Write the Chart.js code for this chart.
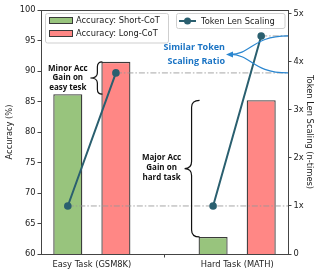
<!DOCTYPE html>
<html><head><meta charset="utf-8">
<script src="https://cdn.jsdelivr.net/npm/chart.js@4/dist/chart.umd.min.js"></script>
<style>html,body{margin:0;padding:0;background:#fff}#wrap{width:318px;height:275px}</style>
</head><body><div id="wrap"><canvas id="c" width="318" height="275"></canvas></div>
<script>
// ---- data ----
const categories = ['Easy Task (GSM8K)', 'Hard Task (MATH)'];
const accShortCoT = [86.2, 62.8];
const accLongCoT = [91.5, 85.2];
const tokenShortCoT = [1, 1];
const tokenLongCoT = [3.77, 4.54];
const accTicks = [60, 65, 70, 75, 80, 85, 90, 95, 100];
const tokenTicks = [0, 1, 2, 3, 4, 5];
const tokenTickLabels = ['0', '1x', '2x', '3x', '4x', '5x'];
const seriesLabels = ['Accuracy: Short-CoT', 'Accuracy: Long-CoT', 'Token Len Scaling'];
const minorText = ['Minor Acc', 'Gain on', 'easy tesk'];
const majorText = ['Major Acc', 'Gain on', 'hard task'];
const similarText = ['Similar Token', 'Scaling Ratio'];

// ---- style / layout ----
const X_MIN = -0.35, X_MAX = 1.35;
const CAT_PCT = 0.662, BAR_PCT = 0.604;
const OFF = CAT_PCT / 4;
const GREEN = '#98c47d', RED = '#ff8785', EDGE = '#3a3a3a', TEAL = '#2a5f6f', BLUE = '#1b74c4';
const TF = {family: 'DejaVu Sans', size: 8.3};
const TXT = '#222';

const barData = arr => arr.map((v, i) => ({x: i, y: v}));
const lineData = [];
categories.forEach((c, i) => {
  lineData.push({x: i - OFF, y: tokenShortCoT[i]});
  lineData.push({x: i + OFF, y: tokenLongCoT[i]});
  lineData.push({x: i + 0.5, y: null});
});
const refSets = [];
const seenY = new Set();
lineData.forEach(p => {
  if (p.y === null || seenY.has(p.y)) return;
  seenY.add(p.y);
  refSets.push({type: 'line', data: [{x: p.x, y: p.y}, {x: X_MAX, y: p.y}], yAxisID: 'y1',
    borderColor: 'rgba(150,150,150,0.85)', borderWidth: 1, borderDash: [6, 2, 1.5, 2],
    pointRadius: 0, order: 1});
});

function brace(ctx, xEnd, xv, xTip, yTop, yBot, r) {
  const yMid = (yTop + yBot) / 2;
  ctx.beginPath();
  ctx.moveTo(xEnd, yTop);
  ctx.quadraticCurveTo(xv, yTop, xv, yTop + r);
  ctx.lineTo(xv, yMid - r);
  ctx.quadraticCurveTo(xv, yMid, xTip, yMid);
  ctx.quadraticCurveTo(xv, yMid, xv, yMid + r);
  ctx.lineTo(xv, yBot - r);
  ctx.quadraticCurveTo(xv, yBot, xEnd, yBot);
  ctx.stroke();
}
function lines(ctx, arr, x, yc, lh) {
  const y0 = yc - (arr.length - 1) * lh / 2;
  arr.forEach((t, k) => ctx.fillText(t, x, y0 + k * lh));
}

const annot = {
  id: 'annot',
  afterDraw(chart) {
    const ctx = chart.ctx, ca = chart.chartArea, y1 = chart.scales.y1;
    const sb = chart.getDatasetMeta(0).data, lb = chart.getDatasetMeta(1).data;
    ctx.save();
    // top spine
    ctx.strokeStyle = '#444'; ctx.lineWidth = 1;
    ctx.beginPath(); ctx.moveTo(ca.left, ca.top + 0.5); ctx.lineTo(ca.right, ca.top + 0.5); ctx.stroke();

    // braces
    ctx.strokeStyle = '#111'; ctx.lineWidth = 1.2;
    const l0 = lb[0].x - lb[0].width / 2;
    brace(ctx, l0 + 1, l0 - 4, l0 - 11, lb[0].y, sb[0].y, 5);
    const s1 = sb[1].x - sb[1].width / 2;
    brace(ctx, s1 + 1, s1 - 7, s1 - 14, lb[1].y, sb[1].y, 7);
    ctx.fillStyle = '#111';
    ctx.font = 'bold 8px "Open Sans"';
    ctx.textAlign = 'center'; ctx.textBaseline = 'middle';
    lines(ctx, minorText, sb[0].x, (lb[0].y + sb[0].y) / 2, 9.7);
    lines(ctx, majorText, s1 - 37, (lb[1].y + sb[1].y) / 2 - 1, 10);

    // similar scaling annotation
    const yA = y1.getPixelForValue(tokenLongCoT[1]);
    const yB = y1.getPixelForValue(tokenLongCoT[0]);
    const ym = (yA + yB) / 2;
    const xt = 226, xr = ca.right;
    ctx.strokeStyle = '#2a86d0'; ctx.lineWidth = 1.2;
    ctx.beginPath(); ctx.moveTo(xt + 4, ym); ctx.bezierCurveTo(252, ym, 252, yA, xr, yA); ctx.stroke();
    ctx.beginPath(); ctx.moveTo(xt + 4, ym); ctx.bezierCurveTo(252, ym, 252, yB, xr, yB); ctx.stroke();
    ctx.fillStyle = '#2a86d0';
    ctx.beginPath(); ctx.moveTo(xt, ym); ctx.lineTo(xt + 7, ym - 3); ctx.lineTo(xt + 7, ym + 3); ctx.closePath(); ctx.fill();
    ctx.fillStyle = BLUE; ctx.font = 'bold 9px "Open Sans"';
    ctx.textAlign = 'right';
    lines(ctx, similarText, xt - 1, ym, 13.5);

    // legends
    ctx.textAlign = 'left'; ctx.textBaseline = 'middle';
    ctx.font = '8.3px "DejaVu Sans"';
    ctx.fillStyle = 'rgba(255,255,255,0.85)'; ctx.strokeStyle = '#cfcfcf'; ctx.lineWidth = 1;
    ctx.beginPath(); ctx.roundRect(45.5, 13.5, 123, 29.5, 2); ctx.fill(); ctx.stroke();
    ctx.beginPath(); ctx.roundRect(176.5, 13.5, 108.5, 15, 2); ctx.fill(); ctx.stroke();
    ctx.lineWidth = 1; ctx.strokeStyle = EDGE;
    ctx.fillStyle = GREEN; ctx.fillRect(49.5, 17.5, 23, 6); ctx.strokeRect(49.5, 17.5, 23, 6);
    ctx.fillStyle = RED; ctx.fillRect(49.5, 30.5, 23, 6); ctx.strokeRect(49.5, 30.5, 23, 6);
    ctx.fillStyle = TXT;
    ctx.fillText(seriesLabels[0], 76, 21);
    ctx.fillText(seriesLabels[1], 76, 34);
    ctx.strokeStyle = TEAL; ctx.lineWidth = 2;
    ctx.beginPath(); ctx.moveTo(179, 21); ctx.lineTo(196, 21); ctx.stroke();
    ctx.fillStyle = TEAL; ctx.beginPath(); ctx.arc(187.5, 21, 3.5, 0, Math.PI * 2); ctx.fill();
    ctx.fillStyle = TXT; ctx.fillText(seriesLabels[2], 201, 21.5);
    ctx.restore();
  }
};

const gridOpts = {drawOnChartArea: false, drawTicks: true, tickLength: 3.5, color: '#444'};
new Chart(document.getElementById('c'), {
  type: 'bar',
  data: {
    datasets: [
      {type: 'bar', label: seriesLabels[0], data: barData(accShortCoT), yAxisID: 'y',
        backgroundColor: GREEN, borderColor: EDGE, borderWidth: 1.3, order: 2,
        categoryPercentage: CAT_PCT, barPercentage: BAR_PCT},
      {type: 'bar', label: seriesLabels[1], data: barData(accLongCoT), yAxisID: 'y',
        backgroundColor: RED, borderColor: EDGE, borderWidth: 1.3, order: 2,
        categoryPercentage: CAT_PCT, barPercentage: BAR_PCT},
      ...refSets,
      {type: 'line', label: seriesLabels[2], data: lineData, yAxisID: 'y1', spanGaps: false,
        borderColor: TEAL, backgroundColor: TEAL, borderWidth: 2, pointRadius: 3.8,
        pointBackgroundColor: TEAL, pointBorderWidth: 0, order: 0}
    ]
  },
  options: {
    responsive: false, animation: false, devicePixelRatio: 1,
    layout: {padding: {top: 10, left: 0, right: 0, bottom: 0}},
    plugins: {legend: {display: false}, tooltip: {enabled: false}},
    scales: {
      x: {type: 'linear', min: X_MIN, max: X_MAX, offset: false, grid: gridOpts,
        border: {color: '#444', width: 1},
        afterBuildTicks: s => { s.ticks = categories.map((c, i) => ({value: i})); },
        ticks: {callback: v => categories[v], font: TF, color: TXT, padding: 2, maxRotation: 0, autoSkip: false},
        afterFit: s => { s.height = 21; }},
      y: {type: 'linear', position: 'left', min: 60, max: 100, grid: gridOpts,
        border: {color: '#444', width: 1},
        afterBuildTicks: s => { s.ticks = accTicks.map(v => ({value: v})); },
        ticks: {font: TF, color: TXT, padding: 2},
        title: {display: true, text: 'Accuracy (%)', font: TF, color: TXT, padding: {top: 5, bottom: 0}},
        afterFit: s => { s.width = 41; }},
      y1: {type: 'linear', position: 'right', min: 0, max: 5.08, grid: gridOpts,
        border: {color: '#444', width: 1},
        afterBuildTicks: s => { s.ticks = tokenTicks.map(v => ({value: v})); },
        ticks: {font: TF, color: TXT, padding: 2, callback: v => tokenTickLabels[tokenTicks.indexOf(v)]},
        title: {display: true, text: 'Token Len Scaling (n-times)', font: TF, color: TXT, padding: {top: 4, bottom: 0}},
        afterFit: s => { s.width = 30; }}
    }
  },
  plugins: [annot]
});
</script></body></html>
